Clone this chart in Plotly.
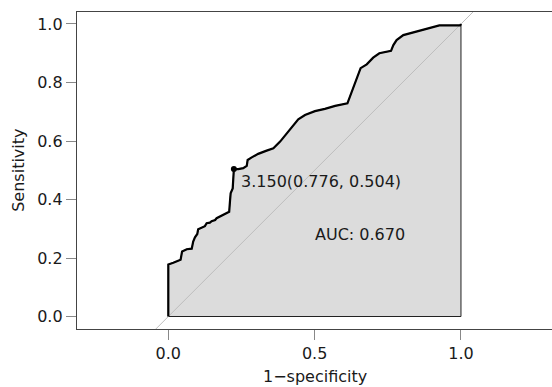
import plotly.graph_objects as go

# 1 - specificity (false positive rate) and sensitivity
fpr = [0.000, 0.000, 0.017, 0.031, 0.042, 0.047, 0.063, 0.080, 0.085, 0.091,
       0.099, 0.102, 0.114, 0.125, 0.131, 0.142, 0.148, 0.160, 0.165, 0.182,
       0.194, 0.208, 0.211, 0.213, 0.220, 0.222, 0.224, 0.239, 0.256, 0.268,
       0.271, 0.285, 0.307, 0.336, 0.359, 0.382, 0.410, 0.427, 0.444, 0.467,
       0.501, 0.535, 0.570, 0.612, 0.638, 0.657, 0.678, 0.700, 0.721, 0.740,
       0.761, 0.769, 0.780, 0.803, 0.849, 0.894, 0.926, 0.997, 1.000]
tpr = [0.000, 0.178, 0.184, 0.191, 0.194, 0.222, 0.230, 0.232, 0.256, 0.271,
       0.282, 0.298, 0.305, 0.309, 0.319, 0.321, 0.326, 0.330, 0.336, 0.345,
       0.350, 0.358, 0.398, 0.421, 0.438, 0.472, 0.504, 0.504, 0.507, 0.515,
       0.535, 0.544, 0.556, 0.567, 0.575, 0.598, 0.632, 0.655, 0.674, 0.689,
       0.702, 0.710, 0.720, 0.729, 0.797, 0.849, 0.862, 0.885, 0.900, 0.905,
       0.908, 0.928, 0.945, 0.962, 0.974, 0.985, 0.995, 0.995, 1.000]

best_threshold = 3.150
best_specificity = 0.776
best_sensitivity = 0.504
auc_value = 0.670

x_ticks = [0.0, 0.5, 1.0]
x_tick_labels = ["0.0", "0.5", "1.0"]
y_ticks = [0.0, 0.2, 0.4, 0.6, 0.8, 1.0]
y_tick_labels = ["0.0", "0.2", "0.4", "0.6", "0.8", "1.0"]

FONT = "DejaVu Sans, Verdana, sans-serif"
TXT = "#1a1a1a"

fig = go.Figure()

# AUC polygon
fig.add_trace(go.Scatter(
    x=fpr + [1.0, 0.0], y=tpr + [0.0, 0.0],
    fill="toself", fillcolor="#dcdcdc",
    mode="lines", line=dict(color="#222222", width=1),
    hoverinfo="skip", showlegend=False))

# diagonal reference
fig.add_trace(go.Scatter(
    x=[-0.5, 1.5], y=[-0.5, 1.5], mode="lines",
    line=dict(color="#bdbdbd", width=1), hoverinfo="skip", showlegend=False))

# ROC curve
fig.add_trace(go.Scatter(
    x=fpr, y=tpr, mode="lines",
    line=dict(color="#000000", width=2.2), showlegend=False))

# best threshold point
fig.add_trace(go.Scatter(
    x=[1 - best_specificity], y=[best_sensitivity], mode="markers",
    marker=dict(color="#000000", size=6), showlegend=False))

fig.add_annotation(
    x=1 - best_specificity + 0.016, y=best_sensitivity - 0.043,
    xref="x", yref="y", xanchor="left", yanchor="middle",
    text=f"{best_threshold:.3f}({best_specificity:.3f}, {best_sensitivity:.3f})",
    showarrow=False, font=dict(family=FONT, size=16, color=TXT))

fig.add_annotation(
    x=0.655, y=0.279, xref="x", yref="y", xanchor="center", yanchor="middle",
    text=f"AUC: {auc_value:.3f}", showarrow=False,
    font=dict(family=FONT, size=16, color=TXT))

# axis titles
fig.add_annotation(
    x=0.5, y=-0.150, xref="x", yref="paper", xanchor="center", yanchor="middle",
    text="1\u2212specificity", showarrow=False,
    font=dict(family=FONT, size=16, color=TXT))
fig.add_annotation(
    x=-0.1236, y=0.5, xref="paper", yref="paper", xanchor="center", yanchor="middle",
    text="Sensitivity", textangle=-90, showarrow=False,
    font=dict(family=FONT, size=16, color=TXT))

fig.update_layout(
    width=552, height=387,
    margin=dict(l=77, r=0, t=12, b=58),
    plot_bgcolor="white", paper_bgcolor="white",
    font=dict(family=FONT, size=16, color=TXT),
    showlegend=False,
)
fig.update_xaxes(
    range=[-0.312, 1.311], tickvals=x_ticks, ticktext=x_tick_labels,
    showgrid=False, zeroline=False, showline=True, mirror=True,
    linecolor="#444444", linewidth=1.3,
    ticks="outside", ticklen=10, tickcolor="#888888", tickwidth=1,
    tickfont=dict(family=FONT, size=16, color=TXT))
fig.update_yaxes(
    range=[-0.0427, 1.041], tickvals=y_ticks, ticktext=y_tick_labels,
    showgrid=False, zeroline=False, showline=True, mirror=False,
    linecolor="#444444", linewidth=1.3,
    ticks="outside", ticklen=10, tickcolor="#888888", tickwidth=1,
    tickfont=dict(family=FONT, size=16, color=TXT))

fig.write_html("out.html")
